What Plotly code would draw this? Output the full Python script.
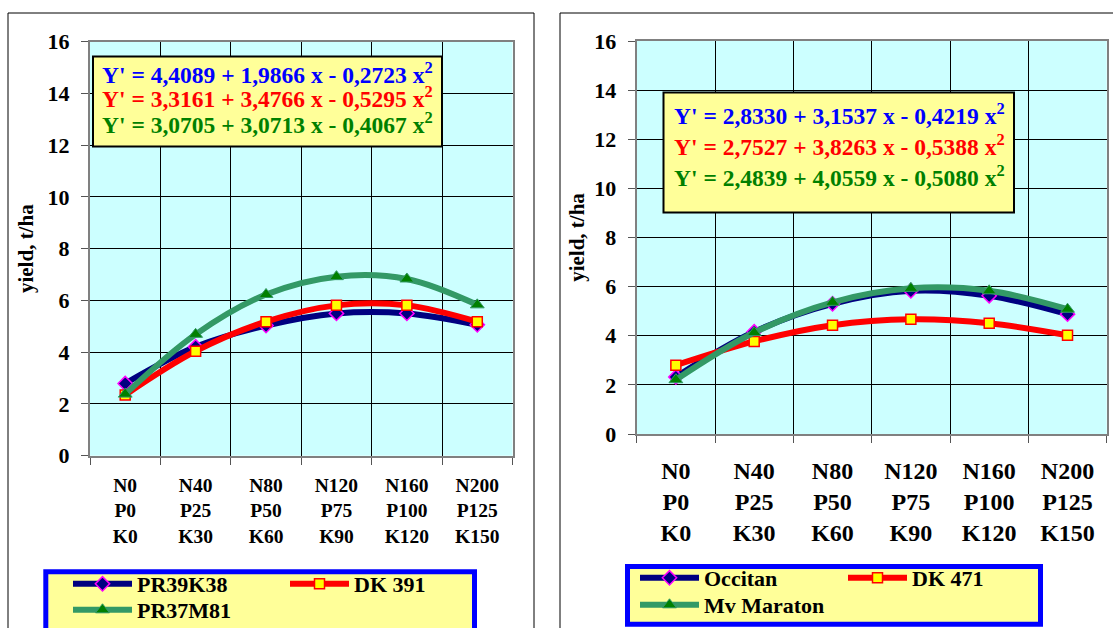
import plotly.graph_objects as go

# Fertiliser treatments (N, P, K rates) shown on the category axis
treatments = ["N0<br>P0<br>K0", "N40<br>P25<br>K30", "N80<br>P50<br>K60",
              "N120<br>P75<br>K90", "N160<br>P100<br>K120", "N200<br>P125<br>K150"]
positions = list(range(len(treatments)))

# Grain yield, t/ha - left panel hybrids
pr39k38 = [2.79, 4.21, 5.03, 5.50, 5.50, 5.06]
dk391 = [2.35, 4.04, 5.18, 5.81, 5.81, 5.18]
pr37m81 = [2.38, 4.69, 6.23, 6.92, 6.83, 5.83]

# Grain yield, t/ha - right panel hybrids
occitan = [2.32, 4.16, 5.30, 5.83, 5.63, 4.88]
dk471 = [2.80, 3.77, 4.43, 4.67, 4.51, 4.02]
mv_maraton = [2.21, 4.13, 5.36, 5.93, 5.83, 5.08]

# Fitted quadratic response equations
eq_left = ["Y' = 4,4089 + 1,9866 x - 0,2723 x<sup>2</sup>",
           "Y' = 3,3161 + 3,4766 x - 0,5295 x<sup>2</sup>",
           "Y' = 3,0705 + 3,0713 x - 0,4067 x<sup>2</sup>"]
eq_right = ["Y' = 2,8330 + 3,1537 x - 0,4219 x<sup>2</sup>",
            "Y' = 2,7527 + 3,8263 x - 0,5388 x<sup>2</sup>",
            "Y' = 2,4839 + 4,0559 x - 0,5080 x<sup>2</sup>"]
eq_colors = ["#0000FF", "#FF0000", "#008000"]

y_ticks = [0, 2, 4, 6, 8, 10, 12, 14, 16]

W, H = 1113, 628
FONT = "Liberation Serif"


def fx(p):
    return p / W


def fy(p):
    return 1 - p / H


styles = {
    "blue": dict(line=dict(color="#000080", width=6, shape="spline"),
                 marker=dict(symbol="diamond", size=11, color="#000080",
                             line=dict(color="#FF00FF", width=1.5))),
    "red": dict(line=dict(color="#FF0000", width=6, shape="spline"),
                marker=dict(symbol="square", size=10, color="#FFFF00",
                            line=dict(color="#FF0000", width=1.5))),
    "green": dict(line=dict(color="#339966", width=6, shape="spline"),
                  marker=dict(symbol="triangle-up", size=12, color="#008000",
                              line=dict(color="#339966", width=1))),
}

fig = go.Figure()

panels = [
    ("x", "y", [("PR39K38", pr39k38, "blue", "legend"),
                ("DK 391", dk391, "red", "legend"),
                ("PR37M81", pr37m81, "green", "legend2")]),
    ("x2", "y2", [("Occitan", occitan, "blue", "legend3"),
                  ("DK 471", dk471, "red", "legend3"),
                  ("Mv Maraton", mv_maraton, "green", "legend4")]),
]
for xa, ya, series in panels:
    for name, vals, style, leg in series:
        fig.add_trace(go.Scatter(x=positions, y=vals, name=name, mode="lines+markers",
                                 xaxis=xa, yaxis=ya, legend=leg, **styles[style]))

bounds = [p - 0.5 for p in positions] + [positions[-1] + 0.5]


def xaxis_cfg(domain, anchor, label_size, standoff):
    return dict(domain=domain, anchor=anchor, range=[bounds[0], bounds[-1]], tickmode="array",
                tickvals=positions, ticktext=treatments, ticks="", showgrid=False,
                showline=True, linecolor="#808080", linewidth=2, mirror=True,
                zeroline=False, ticklabelstandoff=standoff,
                tickfont=dict(family=FONT, size=label_size, color="black", weight="bold"),
                minor=dict(tickmode="array", tickvals=bounds, ticks="outside", ticklen=7,
                           tickwidth=1, tickcolor="#555555", showgrid=True,
                           gridcolor="black", gridwidth=1),
                fixedrange=True)


def yaxis_cfg(domain, anchor, standoff):
    return dict(domain=domain, anchor=anchor, range=[0, 16], tickmode="array", tickvals=y_ticks,
                ticks="outside", ticklen=7, tickwidth=1, tickcolor="#555555",
                showgrid=True, gridcolor="black", gridwidth=1, showline=True,
                linecolor="#808080", linewidth=2, mirror=True, zeroline=False,
                ticklabelstandoff=7,
                tickfont=dict(family=FONT, size=22, color="black", weight="bold"),
                title=dict(text="yield, t/ha", standoff=standoff,
                           font=dict(family=FONT, size=21, color="black", weight="bold")),
                fixedrange=True)


legend_base = dict(orientation="h", bgcolor="rgba(0,0,0,0)", borderwidth=0,
                   font=dict(family=FONT, size=22, color="black", weight="bold"),
                   itemwidth=59, entrywidthmode="pixels", xanchor="left", yanchor="top",
                   itemclick=False, itemdoubleclick=False)

fig.update_layout(
    width=W, height=H, margin=dict(l=0, r=0, t=0, b=0, autoexpand=False),
    paper_bgcolor="white", plot_bgcolor="#CCFFFF",
    font=dict(family=FONT, color="black"),
    xaxis=xaxis_cfg([fx(90), fx(512.5)], "y", 19.5, 11),
    yaxis=yaxis_cfg([fy(455.7), fy(41.7)], "x", 8),
    xaxis2=xaxis_cfg([fx(636.7), fx(1106.7)], "y2", 24, 14),
    yaxis2=yaxis_cfg([fy(434), fy(41)], "x2", 4),
    legend=dict(legend_base, entrywidth=143, x=fx(68), y=fy(563)),
    legend2=dict(legend_base, entrywidth=143, x=fx(68), y=fy(589)),
    legend3=dict(legend_base, entrywidth=134, x=fx(635), y=fy(557)),
    legend4=dict(legend_base, entrywidth=134, x=fx(635), y=fy(584)),
)

shapes = [
    # panel frames
    dict(type="rect", xref="paper", yref="paper", x0=fx(8), x1=fx(534), y0=fy(13), y1=fy(660),
         line=dict(color="black", width=1), layer="below"),
    dict(type="rect", xref="paper", yref="paper", x0=fx(560), x1=fx(1130), y0=fy(13), y1=fy(660),
         line=dict(color="black", width=1), layer="below"),
    # equation boxes
    dict(type="rect", xref="paper", yref="paper", x0=fx(93), x1=fx(442), y0=fy(56.5), y1=fy(146.5),
         line=dict(color="black", width=2), fillcolor="#FFFF99", layer="above"),
    dict(type="rect", xref="paper", yref="paper", x0=fx(663.5), x1=fx(1014), y0=fy(92.5), y1=fy(212.5),
         line=dict(color="black", width=2), fillcolor="#FFFF99", layer="above"),
    # legend boxes
    dict(type="rect", xref="paper", yref="paper", x0=fx(45.8), x1=fx(474.5), y0=fy(571.8), y1=fy(660),
         line=dict(color="#0000FF", width=5), fillcolor="#FFFF99", layer="above"),
    dict(type="rect", xref="paper", yref="paper", x0=fx(627.5), x1=fx(1040.5), y0=fy(566.5), y1=fy(624.2),
         line=dict(color="#0000FF", width=5), fillcolor="#FFFF99", layer="above"),
]
fig.update_layout(shapes=shapes)

annotations = []
for i, (txt, col) in enumerate(zip(eq_left, eq_colors)):
    annotations.append(dict(xref="paper", yref="paper", x=fx(267), y=fy([72.5, 97.5, 123][i]),
                            text=txt, showarrow=False, xanchor="center", yanchor="middle",
                            font=dict(family=FONT, size=23.5, color=col, weight="bold")))
for i, (txt, col) in enumerate(zip(eq_right, eq_colors)):
    annotations.append(dict(xref="paper", yref="paper", x=fx(839), y=fy([113.7, 144.7, 176.3][i]),
                            text=txt, showarrow=False, xanchor="center", yanchor="middle",
                            font=dict(family=FONT, size=23.5, color=col, weight="bold")))
fig.update_layout(annotations=annotations)

fig.write_html("out.html")
